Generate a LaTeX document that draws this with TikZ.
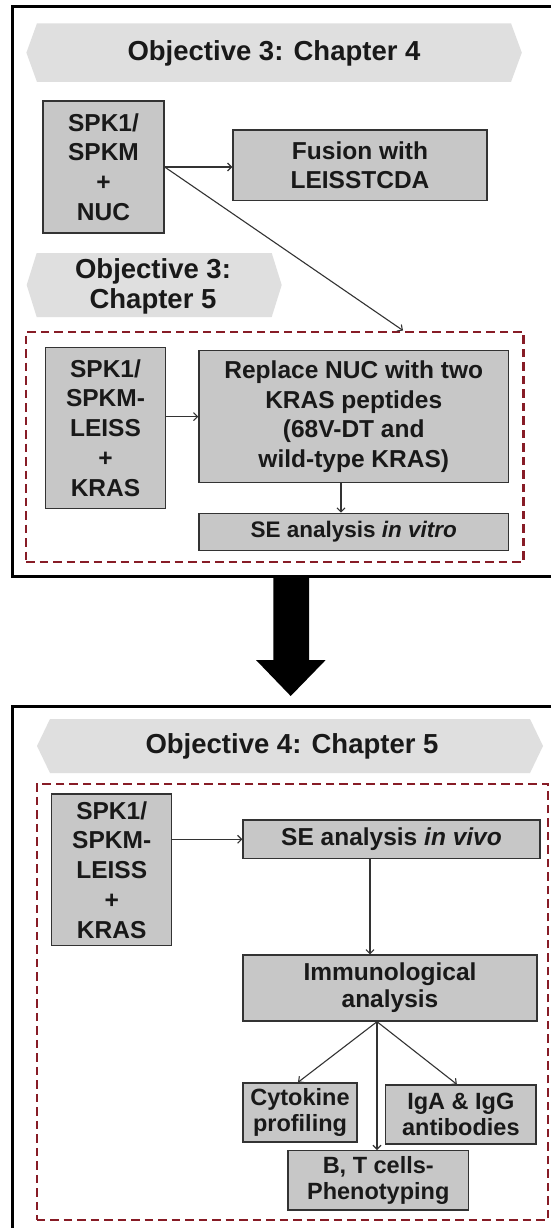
\documentclass[tikz,border=0pt]{standalone}
\usepackage{fontspec}
\setmainfont{Liberation Sans}
\usetikzlibrary{arrows.meta}
\definecolor{boxgray}{RGB}{199,199,199}
\definecolor{bannergray}{RGB}{223,223,223}
\definecolor{dashred}{RGB}{135,28,38}
\definecolor{textdark}{RGB}{25,25,25}
\tikzset{%
    box/.style = {draw = black!80, line width = 1.4pt, fill = boxgray, text = textdark,
        align = center, inner sep = 0pt, font = \bfseries\fontsize{24.5}{29.8}\selectfont},
    smallbox/.style = {box, font = \bfseries\fontsize{23.5}{26}\selectfont},
    title/.style = {text = textdark, align = center, inner sep = 0pt,
        font = \bfseries\fontsize{27.5}{30}\selectfont},
    frame/.style = {draw = black, line width = 3pt},
    group/.style = {draw = dashred, line width = 2.4pt, dash pattern = on 8.5pt off 5pt,
        inner sep = 0pt},
    link/.style = {draw = black!80, line width = 1.1pt, -{Straight Barb[length = 4pt, width = 8pt]}},
}

\begin{document}
\begin{tikzpicture}[x = 1pt, y = -1pt]%
    \useasboundingbox (0, 0) rectangle (551, 1228);
    \fill[white] (0, 0) rectangle (551, 1228);
    % upper frame
    \draw[frame] (12.5, 6.7) rectangle (556, 576.5);
    \fill[bannergray] (26.4, 52.7) -- (37, 23.3) -- (511, 23.3) -- (521.8, 52.7) -- (511, 82) -- (37, 82) -- cycle;
    \node[title] (obj3a) at (274, 53) {Objective 3: Chapter 4};
    \node[box, minimum width = 121pt, minimum height = 132pt] (spkA) at (103.5, 167) {SPK1/\\SPKM\\+\\NUC};
    \node[box, minimum width = 254pt, minimum height = 70.5pt] (fusion) at (360, 165.3) {Fusion with\\LEISSTCDA};
    \fill[bannergray] (26.7, 285) -- (36.7, 253) -- (271.7, 253) -- (281.7, 285) -- (271.7, 317) -- (36.7, 317) -- cycle;
    \node[title] (obj3b) at (153, 286.7) {Objective 3:\\Chapter 5};
    \node[group, minimum width = 497.3pt, minimum height = 230pt] (grpA) at (274.65, 446.7) {};
    \node[box, minimum width = 120pt, minimum height = 160.6pt] (spkB) at (105.5, 428) {SPK1/\\SPKM-\\LEISS\\+\\KRAS};
    \node[box, minimum width = 309.5pt, minimum height = 131.8pt] (replace) at (353.75, 416.6) {Replace NUC with two\\KRAS peptides\\(68V-DT and\\wild-type KRAS)};
    \node[box, minimum width = 309.5pt, minimum height = 37.4pt, font = \bfseries\fontsize{22.5}{26}\selectfont] (vitro) at (353.75, 532) {SE analysis \textit{in vitro}};
    \draw[link] (spkA.east) -- (spkA.east -| fusion.west);
    \draw[link] (spkA.east) -- ([xshift = 128.35pt]grpA.north);
    \draw[link] (spkB.east |- replace.west) -- (replace.west);
    \draw[link] ([xshift = -12.75pt]replace.south) -- ([xshift = -12.75pt]vitro.north);
    % big arrow between the frames
    \fill[black] (273.3, 576) -- (309, 576) -- (309, 660) -- (325.7, 660) -- (290.7, 696) -- (256, 660) -- (273.3, 660) -- cycle;
    % lower frame
    \draw[frame] (12.5, 706.5) rectangle (556, 1234);
    \fill[bannergray] (37, 746) -- (50, 719) -- (530, 719) -- (543, 746) -- (530, 773) -- (50, 773) -- cycle;
    \node[title] (obj4) at (292, 746) {Objective 4: Chapter 5};
    \node[group, minimum width = 511.3pt, minimum height = 436pt] (grpB) at (292.35, 1002) {};
    \node[box, minimum width = 120pt, minimum height = 151.7pt] (spkC) at (111.7, 869.85) {SPK1/\\SPKM-\\LEISS\\+\\KRAS};
    \node[box, minimum width = 297pt, minimum height = 38.5pt] (vivo) at (391.5, 839.25) {SE analysis \textit{in vivo}};
    \node[box, minimum width = 294pt, minimum height = 66pt, font = \bfseries\fontsize{24.5}{27}\selectfont] (immuno) at (390, 988) {Immunological\\analysis};
    \node[smallbox, minimum width = 114pt, minimum height = 59pt] (cyto) at (300, 1112.5) {Cytokine\\profiling};
    \node[smallbox, minimum width = 150.3pt, minimum height = 59pt] (iga) at (460.85, 1114.5) {IgA \& IgG\\antibodies};
    \node[smallbox, minimum width = 180.5pt, minimum height = 59.3pt] (bt) at (378.25, 1180.35) {B, T cells-\\Phenotyping};
    \coordinate (fork) at ([xshift = -13pt]immuno.south);
    \draw[link] (spkC.east |- vivo.west) -- (vivo.west);
    \draw[link] ([xshift = -21.5pt]vivo.south) -- ([xshift = -21.5pt]vivo.south |- immuno.north);
    \draw[link] (fork) -- ([xshift = -2pt]cyto.north);
    \draw[link] (fork) -- ([xshift = -4pt]iga.north);
    \draw[link] (fork) -- (fork |- bt.north);
\end{tikzpicture}
\end{document}
